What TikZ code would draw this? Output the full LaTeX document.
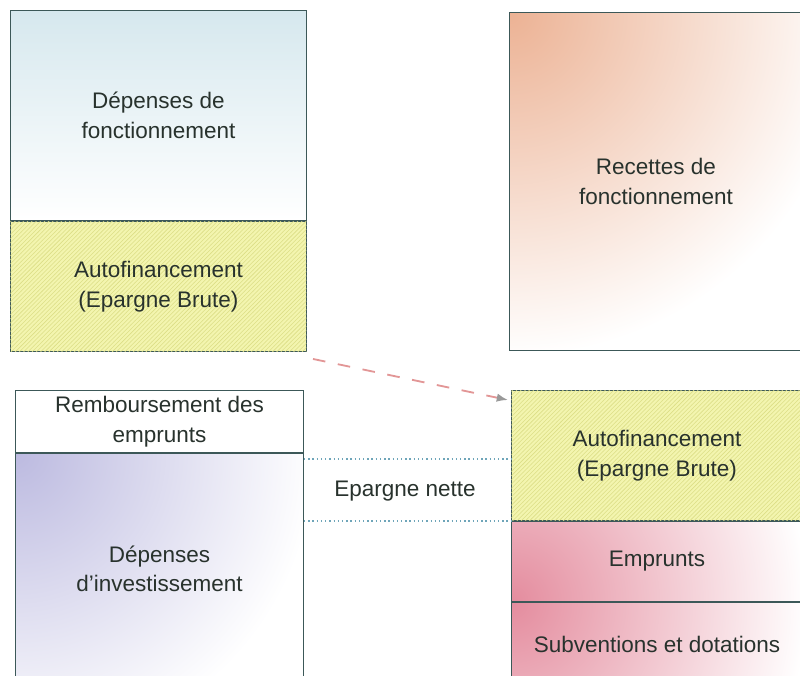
\documentclass[tikz,border=0pt]{standalone}
\usepackage{fontspec}
\setmainfont{Liberation Sans}
\usetikzlibrary{patterns,arrows.meta}

\definecolor{boxline}{RGB}{60,88,88}
\definecolor{labelfg}{RGB}{40,50,45}
\definecolor{autofill}{RGB}{243,245,175}
\definecolor{hatchcolor}{RGB}{220,222,135}
\definecolor{bluefade}{RGB}{214,232,238}
\definecolor{orangefade}{RGB}{236,178,148}
\definecolor{lilacfade}{RGB}{188,186,224}
\definecolor{pinkfade}{RGB}{228,140,158}
\definecolor{arrowpink}{RGB}{226,150,150}
\definecolor{dotblue}{RGB}{110,165,185}

\tikzset{
  block/.style={draw=boxline, line width=0.7pt, anchor=north west, inner sep=0pt,
    text=labelfg, align=center, font=\fontsize{16}{21}\selectfont},
  autoblock/.style={block, fill=autofill,
    postaction={pattern=north east lines, pattern color=hatchcolor}},
  cornerfade/.style n args={3}{fill=white, path picture={
    \shade[inner color=#1, outer color=white] (path picture bounding box.#2) +(-#3,-#3) rectangle +(#3,#3);}},
  dotline/.style={dotblue, dotted, line width=1pt},
}

\begin{document}
\begin{tikzpicture}
        \useasboundingbox (0,0) rectangle (20,16.875);
        \clip (0,0) rectangle (20,16.875);

        \node (depfonc) [block, minimum width=7.4cm, minimum height=5.25cm,
                top color=bluefade, bottom color=white] at (0.25,16.625) {Dépenses de\\fonctionnement};
        \node (autoL) [autoblock, minimum width=7.4cm, minimum height=3.25cm]
                at (depfonc.south west) {Autofinancement\\(Epargne Brute)};

        \node (recfonc) [block, minimum width=7.325cm, minimum height=8.45cm,
                cornerfade={orangefade}{north west}{8.6cm}] at (12.725,16.575) {Recettes de\\fonctionnement};

        \node (rembours) [block, minimum width=7.2cm, minimum height=1.55cm, fill=white]
                at (0.375,7.125) {Remboursement des\\emprunts};
        \node (depinv) [block, minimum width=7.2cm, minimum height=5.775cm,
                cornerfade={lilacfade}{north west}{7.5cm}] at (rembours.south west) {Dépenses\\d'investissement};

        \node (autoR) [autoblock, minimum width=7.275cm, minimum height=3.25cm]
                at (12.775,7.125) {Autofinancement\\(Epargne Brute)};
        \node (empR) [block, minimum width=7.275cm, minimum height=2cm,
                cornerfade={pinkfade}{south west}{7.4cm}] at (autoR.south west) {Emprunts};
        \node (subv) [block, minimum width=7.275cm, minimum height=2.075cm,
                cornerfade={pinkfade}{north west}{7.4cm}] at (empR.south west) {Subventions et dotations};

        \coordinate (netL) at ([yshift=-0.15cm]rembours.south east);
        \coordinate (netR) at (autoR.west |- netL);
        \draw [dotline] (netL) -- (netR);
        \draw [dotline] (depinv.east |- empR.north west) -- (empR.north west);
        \node (epnette) [text=labelfg, font=\fontsize{16}{21}\selectfont] at (10.125,4.6) {Epargne nette};

        \draw [arrowpink, dash pattern=on 9pt off 9pt, line width=1.3pt,
                -{Latex[length=8pt, width=6pt, color=gray!80]}]
                ([shift={(0.15,-0.175)}]autoL.south east) -- ([shift={(-0.075,-0.25)}]autoR.north west);
    \end{tikzpicture}
\end{document}
